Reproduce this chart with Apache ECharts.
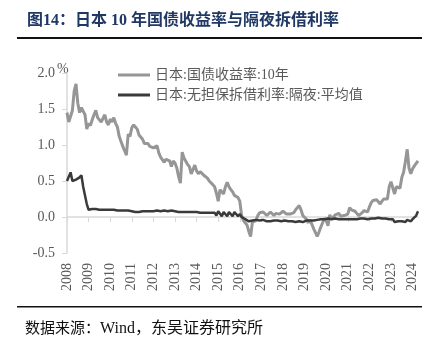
<!DOCTYPE html>
<html>
<head>
<meta charset="utf-8">
<script src="https://cdn.jsdelivr.net/npm/echarts@6/dist/echarts.min.js"></script>
<style>
  html, body { margin: 0; padding: 0; background: #fff; }
  #main { width: 436px; height: 351px; }
</style>
</head>
<body>
<div id="main"></div>
<script>
// 月度数据 2008-01 ~ 2024-04
var yearTicks = ['2008','2009','2010','2011','2012','2013','2014','2015','2016',
                 '2017','2018','2019','2020','2021','2022','2023','2024'];

// 日本:国债收益率:10年
var jgb10y = [
  1.45, 1.32, 1.30, 1.48, 1.75, 1.85, 1.58, 1.45, 1.52, 1.50, 1.42, 1.22,
  1.30, 1.27, 1.35, 1.42, 1.48, 1.38, 1.36, 1.32, 1.33, 1.42, 1.32, 1.28,
  1.36, 1.32, 1.38, 1.30, 1.25, 1.12, 1.05, 0.98, 0.92, 0.86, 1.15, 1.12,
  1.24, 1.28, 1.25, 1.22, 1.14, 1.12, 1.08, 1.02, 1.00, 1.02, 0.98, 1.00,
  0.96, 0.98, 0.99, 0.89, 0.83, 0.82, 0.76, 0.80, 0.78, 0.78, 0.70, 0.78,
  0.75, 0.68, 0.56, 0.47, 0.90, 0.82, 0.80, 0.73, 0.70, 0.60, 0.60, 0.72,
  0.64, 0.60, 0.63, 0.62, 0.58, 0.56, 0.54, 0.50, 0.52, 0.45, 0.42, 0.33,
  0.22, 0.38, 0.40, 0.32, 0.42, 0.48, 0.42, 0.38, 0.35, 0.30, 0.31, 0.27,
  0.22, 0.02, -0.05, -0.08, -0.11, -0.20, -0.27, -0.07, -0.08, -0.05, 0.02, 0.06,
  0.08, 0.07, 0.06, 0.02, 0.04, 0.07, 0.08, 0.02, 0.05, 0.06, 0.04, 0.05,
  0.08, 0.06, 0.04, 0.05, 0.04, 0.03, 0.06, 0.10, 0.13, 0.16, 0.10, 0.02,
  0.01, -0.03, -0.08, -0.04, -0.10, -0.16, -0.14, -0.27, -0.21, -0.14, -0.08, -0.02,
  -0.05, -0.12, 0.03, -0.03, 0.00, 0.03, 0.01, 0.05, 0.01, 0.03, 0.02, 0.02,
  0.04, 0.13, 0.10, 0.10, 0.08, 0.05, 0.02, 0.02, 0.06, 0.09, 0.07, 0.07,
  0.14, 0.20, 0.23, 0.23, 0.24, 0.23, 0.18, 0.22, 0.25, 0.25, 0.25, 0.42,
  0.49, 0.50, 0.32, 0.42, 0.43, 0.40, 0.55, 0.62, 0.77, 0.94, 0.68, 0.60,
  0.67, 0.71, 0.73, 0.78
];

// 日本:无担保拆借利率:隔夜:平均值
var callRate = [
  0.50, 0.52, 0.62, 0.50, 0.51, 0.52, 0.50, 0.55, 0.58, 0.42, 0.30, 0.18,
  0.10, 0.10, 0.11, 0.10, 0.11, 0.10, 0.10, 0.11, 0.10, 0.11, 0.10, 0.10,
  0.10, 0.10, 0.10, 0.10, 0.09, 0.10, 0.09, 0.10, 0.09, 0.09, 0.09, 0.09,
  0.08, 0.08, 0.07, 0.06, 0.07, 0.07, 0.08, 0.08, 0.08, 0.08, 0.08, 0.08,
  0.08, 0.08, 0.09, 0.08, 0.08, 0.08, 0.09, 0.09, 0.08, 0.08, 0.09, 0.08,
  0.08, 0.08, 0.07, 0.07, 0.07, 0.08, 0.07, 0.07, 0.07, 0.07, 0.07, 0.07,
  0.07, 0.07, 0.06, 0.06, 0.06, 0.06, 0.06, 0.06, 0.06, 0.06, 0.06, 0.02,
  0.08, 0.08, 0.01, 0.07, 0.07, 0.01, 0.07, 0.08, 0.01, 0.07, 0.08, 0.01,
  0.04, 0.00, -0.01, -0.03, -0.05, -0.06, -0.04, -0.05, -0.05, -0.04, -0.04, -0.05,
  -0.05, -0.04, -0.05, -0.06, -0.05, -0.06, -0.05, -0.05, -0.06, -0.05, -0.05, -0.06,
  -0.06, -0.05, -0.06, -0.06, -0.07, -0.06, -0.06, -0.07, -0.06, -0.06, -0.07, -0.07,
  -0.06, -0.05, -0.06, -0.05, -0.06, -0.05, -0.05, -0.04, -0.06, -0.03, -0.04, -0.03,
  -0.03, -0.02, -0.04, -0.03, -0.03, -0.02, -0.02, -0.03, -0.04, -0.03, -0.04, -0.03,
  -0.02, -0.03, -0.04, -0.03, -0.02, -0.03, -0.02, -0.02, -0.03, -0.02, -0.02, -0.03,
  -0.02, -0.02, -0.01, -0.02, -0.03, -0.01, -0.02, -0.02, -0.04, -0.02, -0.02, -0.03,
  -0.03, -0.03, -0.07, -0.05, -0.06, -0.07, -0.06, -0.05, -0.07, -0.04, -0.05, -0.06,
  -0.03, -0.01, 0.02, 0.08
];

var months = [];
for (var i = 0; i < jgb10y.length; i++) {
  months.push(yearTicks[Math.floor(i / 12)] + '-' + (i % 12 + 1));
}

var serif = '"Liberation Serif", "Noto Sans CJK SC", serif';
var chart = echarts.init(document.getElementById('main'));
chart.setOption({
  animation: false,
  grid: { left: 67, right: 18, top: 73, bottom: 98 },
  legend: {
    orient: 'vertical',
    left: 113,
    top: 63,
    itemWidth: 32,
    itemHeight: 3,
    itemGap: 6,
    icon: 'rect',
    textStyle: { fontFamily: serif, fontSize: 14, color: '#595959' },
    data: ['日本:国债收益率:10年', '日本:无担保拆借利率:隔夜:平均值']
  },
  xAxis: {
    type: 'category',
    data: months,
    boundaryGap: false,
    axisLine: { onZero: true, lineStyle: { color: '#d9d9d9', width: 1.5 } },
    axisTick: { interval: 11, length: 5, lineStyle: { color: '#d9d9d9' } },
    axisLabel: {
      interval: 11,
      rotate: 90,
      margin: 10,
      fontFamily: serif,
      fontSize: 14,
      color: '#595959',
      formatter: function (v) { return v.split('-')[0]; }
    }
  },
  yAxis: {
    type: 'value',
    min: -0.5,
    max: 2.0,
    interval: 0.5,
    splitLine: { show: false },
    axisLine: { show: true, lineStyle: { color: '#d9d9d9', width: 1.5 } },
    axisTick: { show: true, length: 5, lineStyle: { color: '#d9d9d9' } },
    axisLabel: {
      margin: 12,
      fontFamily: serif,
      fontSize: 14,
      color: '#595959',
      formatter: function (v) { return v.toFixed(1); }
    }
  },
  series: [
    {
      name: '日本:国债收益率:10年',
      type: 'line',
      data: jgb10y,
      showSymbol: false,
      symbol: 'none',
      color: '#969696',
      lineStyle: { width: 3, color: '#969696' }
    },
    {
      name: '日本:无担保拆借利率:隔夜:平均值',
      type: 'line',
      data: callRate,
      showSymbol: false,
      symbol: 'none',
      color: '#3a3a3a',
      lineStyle: { width: 2.5, color: '#3a3a3a' }
    }
  ],
  graphic: [
    {
      type: 'text', left: 27, top: 13,
      style: {
        text: '图14：日本 10 年国债收益率与隔夜拆借利率',
        font: 'bold 16px "Liberation Serif", "Noto Sans CJK SC"',
        fill: '#1f3864'
      }
    },
    { type: 'rect', shape: { x: 17, y: 37, width: 405, height: 2 }, style: { fill: '#111' } },
    {
      type: 'text', left: 57, top: 62,
      style: { text: '%', font: '14px "Liberation Serif"', fill: '#595959' }
    },
    { type: 'rect', shape: { x: 17, y: 306, width: 405, height: 1.5 }, style: { fill: '#111' } },
    {
      type: 'text', left: 25, top: 322,
      style: {
        text: '数据来源：',
        font: '15px "Liberation Serif", "Noto Sans CJK SC"',
        fill: '#111'
      }
    },
    {
      type: 'text', left: 100, top: 321,
      style: {
        text: 'Wind，东吴证券研究所',
        font: '16px "Liberation Serif", "Noto Sans CJK SC"',
        fill: '#111'
      }
    }
  ]
});
</script>
</body>
</html>
